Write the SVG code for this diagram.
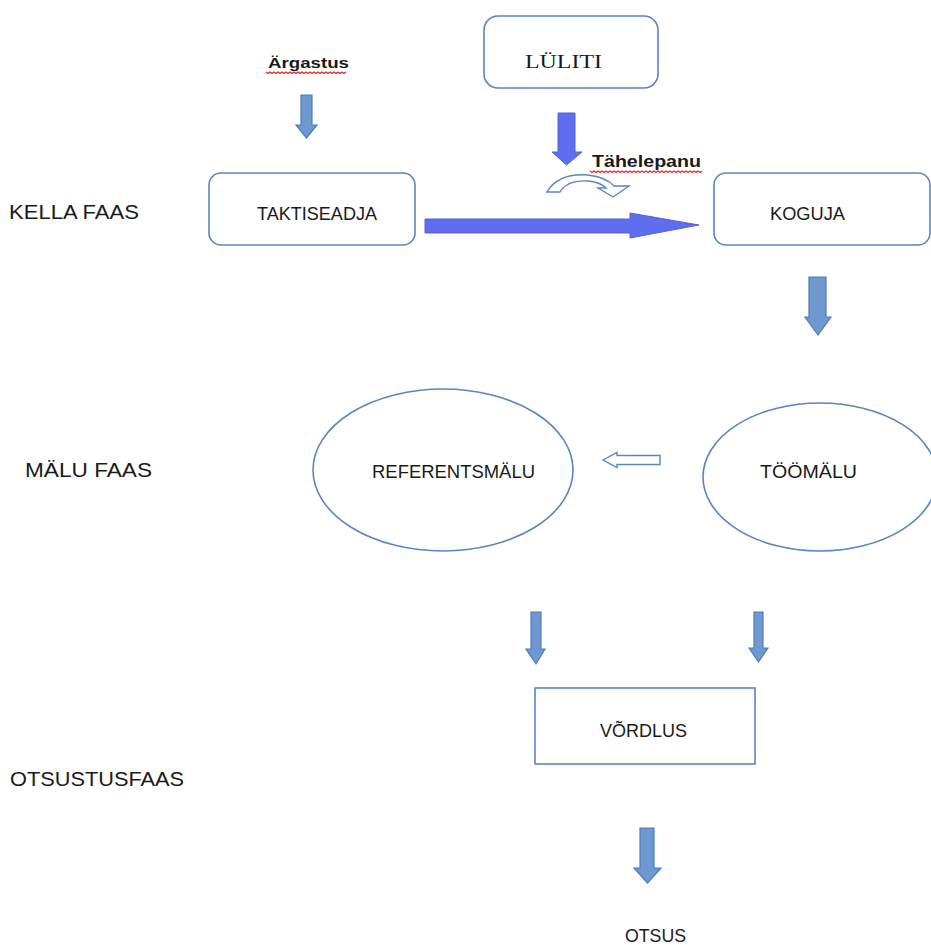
<svg xmlns="http://www.w3.org/2000/svg" width="931" height="945" viewBox="0 0 931 945">
<style>
  .box { fill: #ffffff; stroke: #5b84c4; stroke-width: 1.6; }
  .t { font-family: "Liberation Sans", Arial, sans-serif; fill: #1a1a1a; }
  .lbl { font-size: 19.5px; }
  .nt { font-size: 18px; }
  .b { font-weight: bold; }
  .serif { font-family: "Liberation Serif", "Times New Roman", serif; fill: #1a1a1a; font-size: 19px; }
  .arr { fill: #6d98d0; stroke: #4f7cb9; stroke-width: 1.2; }
  .arrp { fill: #5f6df0; stroke: #5662d8; stroke-width: 1; }
  .hollow { fill: #ffffff; stroke: #5b84c4; stroke-width: 1.4; }
  .squig { fill: none; stroke: #e02020; stroke-width: 1.1; }
</style>
<rect width="931" height="945" fill="#ffffff"/>

<g id="phase-labels">
  <text class="t lbl" x="9" y="219" textLength="130" lengthAdjust="spacingAndGlyphs">KELLA FAAS</text>
  <text class="t lbl" x="25" y="477" textLength="127" lengthAdjust="spacingAndGlyphs">MÄLU FAAS</text>
  <text class="t lbl" x="10" y="786" textLength="174" lengthAdjust="spacingAndGlyphs">OTSUSTUSFAAS</text>
</g>

<g id="argastus">
  <text class="t b" font-size="15.5" x="268" y="68" textLength="81" lengthAdjust="spacingAndGlyphs">Ärgastus</text>
  <path class="squig" d="M266,72 l2,1.5 l2,-1.5 l2,1.5 l2,-1.5 l2,1.5 l2,-1.5 l2,1.5 l2,-1.5 l2,1.5 l2,-1.5 l2,1.5 l2,-1.5 l2,1.5 l2,-1.5 l2,1.5 l2,-1.5 l2,1.5 l2,-1.5 l2,1.5 l2,-1.5 l2,1.5 l2,-1.5 l2,1.5 l2,-1.5 l2,1.5 l2,-1.5 l2,1.5 l2,-1.5 l2,1.5 l2,-1.5 l2,1.5 l2,-1.5 l2,1.5 l2,-1.5 l2,1.5 l2,-1.5 l2,1.5 l2,-1.5 l2,1.5 l2,-1.5"/>
</g>

<g id="luliti">
  <rect class="box" x="484" y="16" width="174" height="72" rx="14"/>
  <text class="serif" x="525" y="68" textLength="77" lengthAdjust="spacingAndGlyphs">LÜLITI</text>
</g>

<g id="tahelepanu">
  <text class="t b" font-size="16.5" x="592" y="167" textLength="109" lengthAdjust="spacingAndGlyphs">Tähelepanu</text>
  <path class="squig" d="M590,171 l2,1.5 l2,-1.5 l2,1.5 l2,-1.5 l2,1.5 l2,-1.5 l2,1.5 l2,-1.5 l2,1.5 l2,-1.5 l2,1.5 l2,-1.5 l2,1.5 l2,-1.5 l2,1.5 l2,-1.5 l2,1.5 l2,-1.5 l2,1.5 l2,-1.5 l2,1.5 l2,-1.5 l2,1.5 l2,-1.5 l2,1.5 l2,-1.5 l2,1.5 l2,-1.5 l2,1.5 l2,-1.5 l2,1.5 l2,-1.5 l2,1.5 l2,-1.5 l2,1.5 l2,-1.5 l2,1.5 l2,-1.5 l2,1.5 l2,-1.5 l2,1.5 l2,-1.5 l2,1.5 l2,-1.5 l2,1.5 l2,-1.5 l2,1.5 l2,-1.5 l2,1.5 l2,-1.5 l2,1.5 l2,-1.5 l2,1.5 l2,-1.5 l2,1.5 l2,-1.5"/>
  <path class="hollow" d="M547,192 Q558,173 588,175 Q606,177 614,186 L629,186 L613,197 L598,188 L606,188 Q600,182 588,181 Q567,180 560,192 Z"/>
</g>

<g id="taktiseadja">
  <rect class="box" x="209" y="173" width="206" height="72" rx="12"/>
  <text class="t nt" x="257" y="220" textLength="120" lengthAdjust="spacingAndGlyphs">TAKTISEADJA</text>
</g>

<g id="koguja">
  <rect class="box" x="714" y="173" width="216" height="72" rx="12"/>
  <text class="t nt" x="770" y="220" textLength="75" lengthAdjust="spacingAndGlyphs">KOGUJA</text>
</g>

<g id="referentsmalu">
  <ellipse class="box" cx="443" cy="470" rx="130" ry="81"/>
  <text class="t nt" x="372" y="478" textLength="163" lengthAdjust="spacingAndGlyphs">REFERENTSMÄLU</text>
</g>

<g id="toomalu">
  <ellipse class="box" cx="820" cy="477" rx="117" ry="74"/>
  <text class="t nt" x="760" y="478" textLength="97" lengthAdjust="spacingAndGlyphs">TÖÖMÄLU</text>
</g>

<g id="vordlus">
  <rect class="box" x="535" y="688" width="220" height="76"/>
  <text class="t nt" x="600" y="737" textLength="87" lengthAdjust="spacingAndGlyphs">VÕRDLUS</text>
</g>

<g id="otsus">
  <text class="t nt" x="625" y="942" textLength="61" lengthAdjust="spacingAndGlyphs">OTSUS</text>
</g>

<g id="connectors">
  <path class="arr" d="M301,95 L312,95 L312,125 L317,125 L306.5,138 L296,125 L301,125 Z"/>
  <path class="arrp" d="M558,113 L575,113 L575,152 L582,152 L566.5,165 L552,152 L558,152 Z"/>
  <path class="arrp" d="M425,219 L630,219 L630,213 L699,225 L630,238 L630,233 L425,233 Z"/>
  <path class="arr" d="M809,277 L826,277 L826,317 L831,317 L818,335 L805,317 L809,317 Z"/>
  <path class="hollow" d="M603,460 L617,452.5 L617,455.5 L660,455.5 L660,464.5 L617,464.5 L617,467.5 Z"/>
  <path class="arr" d="M531,612 L541,612 L541,649 L545,649 L536,664 L526,649 L531,649 Z"/>
  <path class="arr" d="M754,612 L763,612 L763,648 L768,648 L758.5,662 L749,648 L754,648 Z"/>
  <path class="arr" d="M640,828 L654,828 L654,868 L661,868 L647.5,883 L634,868 L640,868 Z"/>
</g>
</svg>
